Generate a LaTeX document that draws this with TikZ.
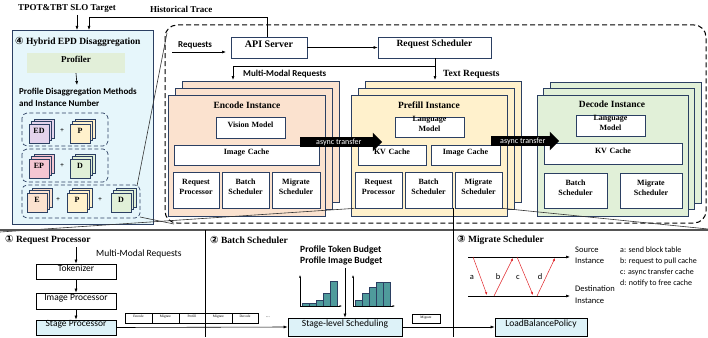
\documentclass[tikz,border=0pt]{standalone}
\usepackage{fontspec}
\setmainfont{Liberation Serif}
\newfontfamily\cfont{Carlito}
\newfontfamily\circfont{DejaVu Sans}
\usetikzlibrary{fit,arrows.meta,shapes.arrows}
\definecolor{navy}{HTML}{2B3F62}
\definecolor{leftbg}{HTML}{E6F6FB}
\definecolor{profg}{HTML}{E2EFD9}
\definecolor{encf}{HTML}{FBE2CF}
\definecolor{pref}{HTML}{FFF1CC}
\definecolor{decf}{HTML}{E1F0D8}
\definecolor{edf}{HTML}{E4D3EC}
\definecolor{epf}{HTML}{F5C6D2}
\definecolor{cyanf}{HTML}{DDF2F8}
\definecolor{barf}{HTML}{4F9B9C}
\definecolor{sepg}{HTML}{555555}
\definecolor{migred}{HTML}{E0262B}
\newcommand{\RB}[7]{\node[fit={(#2,#3)(#4,#5)},inner sep=0pt,#6] (#1) {#7};}
\newcommand{\STK}[8]{%
  \draw[draw=navy,line width=0.6pt,fill=#6] (#2+2*#7,#3-2*#7) rectangle (#4+2*#7,#5-2*#7);
  \draw[draw=navy,line width=0.6pt,fill=#6] (#2+#7,#3-#7) rectangle (#4+#7,#5-#7);
  \RB{#1}{#2}{#3}{#4}{#5}{draw=navy,line width=0.6pt,fill=#6,font=\bfseries\fontsize{8}{9}\selectfont}{#8}}
\begin{document}
\begin{tikzpicture}[x=1pt,y=-1pt,
  ibox/.style={draw=navy,line width=0.7pt,fill=white,align=center,font=\bfseries\fontsize{8}{10}\selectfont},
  arr/.style={-{Latex[length=4pt,width=3pt]},line width=0.6pt},
  lbl/.style={inner sep=0pt,anchor=west},
  sbold/.style={font=\cfont\bfseries\fontsize{9}{10}\selectfont},
  tbold/.style={font=\bfseries\fontsize{9.5}{11}\selectfont},
  grp/.style={draw=navy,dash pattern=on 4pt off 2.5pt,line width=0.7pt,rounded corners=5pt},
  cbox/.style={draw=black,line width=0.7pt,font=\cfont\fontsize{9.5}{11}\selectfont},
  strip/.style={draw=black,line width=0.4pt,fill=white,font=\fontsize{3.5}{4}\selectfont},
  async/.style={single arrow,fill=black,text=white,inner sep=1.2pt,single arrow head extend=4.5pt,
     font=\cfont\fontsize{8}{9}\selectfont,anchor=west},
  zl/.style={line width=0.6pt,draw=black!80}
]
\useasboundingbox (0,0) rectangle (708,337);

% ---------------- top labels
\node[lbl,tbold,font=\bfseries\fontsize{9}{10}\selectfont] (slo) at (18,9) {TPOT\&TBT SLO Target};
\node[lbl,tbold,font=\bfseries\fontsize{9}{10}\selectfont] (hist) at (150,9) {Historical Trace};

% ---------------- left panel
\RB{left}{12}{30}{153}{224}{draw=navy,line width=0.8pt,fill=leftbg}{}
\node[lbl,tbold] (lt) at (15,42) {{\circfont\fontsize{10}{10}\selectfont ④} Hybrid EPD Disaggregation};
\RB{prof}{27}{53}{125}{73}{fill=profg,font=\bfseries\fontsize{9}{10}\selectfont}{Profiler}
\node[lbl,sbold] (pd1) at (19,92) {Profile Disaggregation Methods};
\node[lbl,sbold] (pd2) at (19,103) {and Instance Number};
\draw[arr] (prof.south) -- (77,85);

\draw[grp] (22,113) rectangle (108,146);
\draw[grp] (22,149) rectangle (108,182);
\draw[grp] (22,185) rectangle (140,218);
\STK{g1a}{29}{124}{49}{143}{edf}{2.5}{ED}
\node[font=\bfseries\fontsize{7}{8}\selectfont] (p1) at (62,131) {+};
\STK{g1b}{70}{124}{90}{143}{pref}{2.5}{P}
\STK{g2a}{29}{159}{49}{178}{epf}{2.5}{EP}
\node[font=\bfseries\fontsize{7}{8}\selectfont] (p2) at (62,166) {+};
\STK{g2b}{70}{159}{90}{178}{decf}{2.5}{D}
\STK{g3a}{27}{193}{47}{212}{encf}{2.5}{E}
\node[font=\bfseries\fontsize{7}{8}\selectfont] (p3) at (58,200) {+};
\STK{g3b}{67}{193}{87}{212}{pref}{2.5}{P}
\node[font=\bfseries\fontsize{7}{8}\selectfont] (p4) at (100,200) {+};
\STK{g3c}{111}{193}{131}{212}{decf}{2.5}{D}

% arrows from top labels
\draw[arr] (77,15) -- (77,30);
\coordinate (hcorner) at (89,17);

% ---------------- big dashed region
\draw[line width=1pt,dash pattern=on 5pt off 3pt,rounded corners=12pt] (165,25) rectangle (706,223);
\draw[zl] (137,186) -- (167,33);
\draw[zl] (140,217) -- (174,224);

\RB{api}{231}{37}{307}{58}{draw=navy,line width=0.8pt,fill=white,font=\bfseries\fontsize{10}{11}\selectfont}{API Server}
\RB{rs}{378}{37}{491}{58}{draw=navy,line width=0.8pt,fill=white,font=\bfseries\fontsize{9.5}{11}\selectfont}{Request Scheduler}
\node[lbl,sbold] (reqt) at (178,45) {Requests};
\coordinate (reqin) at (172,52);
\coordinate (reqend) at (226,52);
\draw[arr] (reqin) -- (reqend);
\draw[arr] (api.east) -- (rs.west);
\draw[line width=0.6pt] (api.north -| 267,0) -- (267,17) -- (hcorner);
\draw[arr] (hcorner) -- (89,30);
\node[lbl,sbold] (mmr) at (243,74) {Multi-Modal Requests};
\node[lbl,tbold] (txr) at (443,74) {Text Requests};

% Encode instance
\STK{enc}{168}{95}{325}{216}{encf}{7}{}
\node[tbold,font=\bfseries\fontsize{9.5}{11}\selectfont] (enct) at (247,105) {Encode Instance};
\RB{evm}{216}{117}{285}{138}{ibox}{Vision Model}
\RB{eic}{174}{145}{319}{165}{ibox}{Image Cache}
\RB{erp}{173}{172}{219}{208}{ibox}{Request\\Processor}
\RB{ebs}{222}{172}{269}{208}{ibox}{Batch\\Scheduler}
\RB{ems}{272}{172}{320}{208}{ibox}{Migrate\\Scheduler}

% Prefill instance
\STK{pre}{351}{95}{507}{216}{pref}{7}{}
\node[font=\bfseries\fontsize{9.5}{11}\selectfont] (pret) at (429,105) {Prefill Instance};
\RB{plm}{395}{117}{464}{137}{ibox}{Language\\Model}
\RB{pkv}{358}{145}{426}{165}{ibox}{KV Cache}
\RB{pic}{431}{145}{500}{165}{ibox}{Image Cache}
\RB{prp}{355}{172}{402}{208}{ibox}{Request\\Processor}
\RB{pbs}{405}{172}{452}{208}{ibox}{Batch\\Scheduler}
\RB{pms}{455}{172}{502}{208}{ibox}{Migrate\\Scheduler}

% Decode instance
\STK{dec}{537}{95}{688}{216}{decf}{6.5}{}
\node[font=\bfseries\fontsize{9.5}{11}\selectfont] (dect) at (612,104) {Decode Instance};
\RB{dlm}{576}{115}{645}{136}{ibox}{Language\\Model}
\RB{dkv}{544}{143}{682}{164}{ibox}{KV Cache}
\RB{dbs}{544}{173}{607}{208}{ibox}{Batch\\Scheduler}
\RB{dms}{620}{173}{682}{208}{ibox}{Migrate\\Scheduler}

% request routing
\draw[line width=0.6pt] (rs.south -| 435,0) -- (435,66);
\draw[arr] (435,66) -- (435,80);
\draw[arr] (435,66) -| (233,80);

% async transfers
\node[async,minimum height=82pt] (as1) at (300,142) {async transfer};
\node[async,minimum height=68pt] (as2) at (491,141) {async transfer};

% ---------------- separators / zoom lines
\draw[zl] (prp.south west) -- (0,232);
\draw[zl] (pms.south east) -- (708,229);
\draw[line width=1.1pt,draw=sepg] (0,230) -- (708,230);
\draw[line width=0.6pt] (205,230) -- (205,337);
\draw[line width=0.6pt] (453,208) -- (453,337);

% ---------------- bottom panel 1
\node[lbl,tbold] (b1t) at (5,240) {{\circfont\fontsize{10}{10}\selectfont ①} Request Processor};
\node[lbl,font=\cfont\fontsize{9.5}{11}\selectfont] (mmr2) at (96,254) {Multi-Modal Requests};
\RB{tok}{36}{264}{116}{279}{cbox,fill=white}{Tokenizer}
\RB{imp}{36}{293}{116}{309}{cbox,fill=white}{Image Processor}
\RB{stp}{36}{320}{116}{335}{cbox,fill=cyanf}{Stage Processor}
\coordinate (tokin) at (76,247);
\draw[arr] (tokin) -- (tok.north);
\draw[arr] (tok.south) -- (imp.north);
\draw[arr] (imp.south) -- (stp.north);
\RB{s1}{125}{313}{152}{323}{strip}{Encode}
\RB{s2}{152}{313}{179}{323}{strip}{Migrate}
\RB{s3}{179}{313}{205}{323}{strip}{Prefill}
\RB{s4}{205}{313}{232}{323}{strip}{Migrate}
\RB{s5}{232}{313}{258}{323}{strip}{Decode}
\node[font=\fontsize{5}{6}\selectfont] (dots) at (268,317) {...};

% ---------------- bottom panel 2
\node[lbl,tbold] (b2t) at (210,240) {{\circfont\fontsize{10}{10}\selectfont ②} Batch Scheduler};
\node[lbl,font=\cfont\bfseries\fontsize{9.5}{11}\selectfont] (ptb) at (300,250) {Profile Token Budget};
\node[lbl,font=\cfont\bfseries\fontsize{9.5}{11}\selectfont] (pib) at (300,261) {Profile Image Budget};
\RB{sls}{288}{318}{402}{336}{cbox,fill=cyanf}{Stage-level Scheduling}
\RB{lbp}{495}{318}{587}{336}{cbox,fill=cyanf}{LoadBalancePolicy}
\draw[arr] (stp.east) -- (sls.west);
\draw[arr] (sls.east) -- (lbp.west);
\coordinate (budtop) at (345,268);
\draw[arr] (budtop) -- (sls.north -| budtop);
\RB{sm}{412}{314}{440}{323}{strip}{Migrate}
% charts
\foreach \bx/\top in {0/303,1/303,2/300,3/293,4/281}
  \draw[draw=navy,line width=0.4pt,fill=barf] (302+7*\bx,306) rectangle (309+7*\bx,\top);
\draw[-{Latex[length=2.5pt,width=2pt]},line width=0.5pt] (300,306) -- (300,275);
\draw[-{Latex[length=2.5pt,width=2pt]},line width=0.5pt] (300,306) -- (342,306);
\foreach \bx/\top in {0/300,1/293,2/287,3/282,4/282}
  \draw[draw=navy,line width=0.4pt,fill=barf] (355+7*\bx,306) rectangle (362+7*\bx,\top);
\draw[-{Latex[length=2.5pt,width=2pt]},line width=0.5pt] (353,306) -- (353,275);
\draw[-{Latex[length=2.5pt,width=2pt]},line width=0.5pt] (353,306) -- (395,306);

% ---------------- bottom panel 3
\node[lbl,tbold] (b3t) at (457,240) {{\circfont\fontsize{10}{10}\selectfont ③} Migrate Scheduler};
\coordinate (srcA) at (468,257);
\coordinate (srcB) at (570,257);
\coordinate (dstA) at (468,296);
\coordinate (dstB) at (570,296);
\draw[arr] (srcA) -- (srcB);
\draw[arr] (dstA) -- (dstB);
\begin{scope}[font=\cfont\fontsize{8.5}{10}\selectfont]
\node[lbl] (src1) at (575,250) {Source};
\node[lbl] (src2) at (575,261) {Instance};
\node[lbl] (dst1) at (575,289) {Destination};
\node[lbl] (dst2) at (575,301) {Instance};
\node[lbl,font=\cfont\fontsize{8}{9}\selectfont] (la) at (620,250) {a: send block table};
\node[lbl,font=\cfont\fontsize{8}{9}\selectfont] (lb) at (620,261) {b: request to pull cache};
\node[lbl,font=\cfont\fontsize{8}{9}\selectfont] (lc) at (620,272) {c: async transfer cache};
\node[lbl,font=\cfont\fontsize{8}{9}\selectfont] (ld) at (620,283) {d: notify to free cache};
\node (ma) at (472,277) {a};
\node (mb) at (498,277) {b};
\node (mc) at (518,277) {c};
\node (md) at (540,277) {d};
\end{scope}
\begin{scope}[migred,-{Latex[length=3pt,width=2.5pt]},line width=0.5pt]
\draw (473,257) -- (487,295);
\draw (494,296) -- (513,258);
\draw (517,257) -- (533,295);
\draw (537,296) -- (555,258);
\end{scope}
\end{tikzpicture}
\end{document}
